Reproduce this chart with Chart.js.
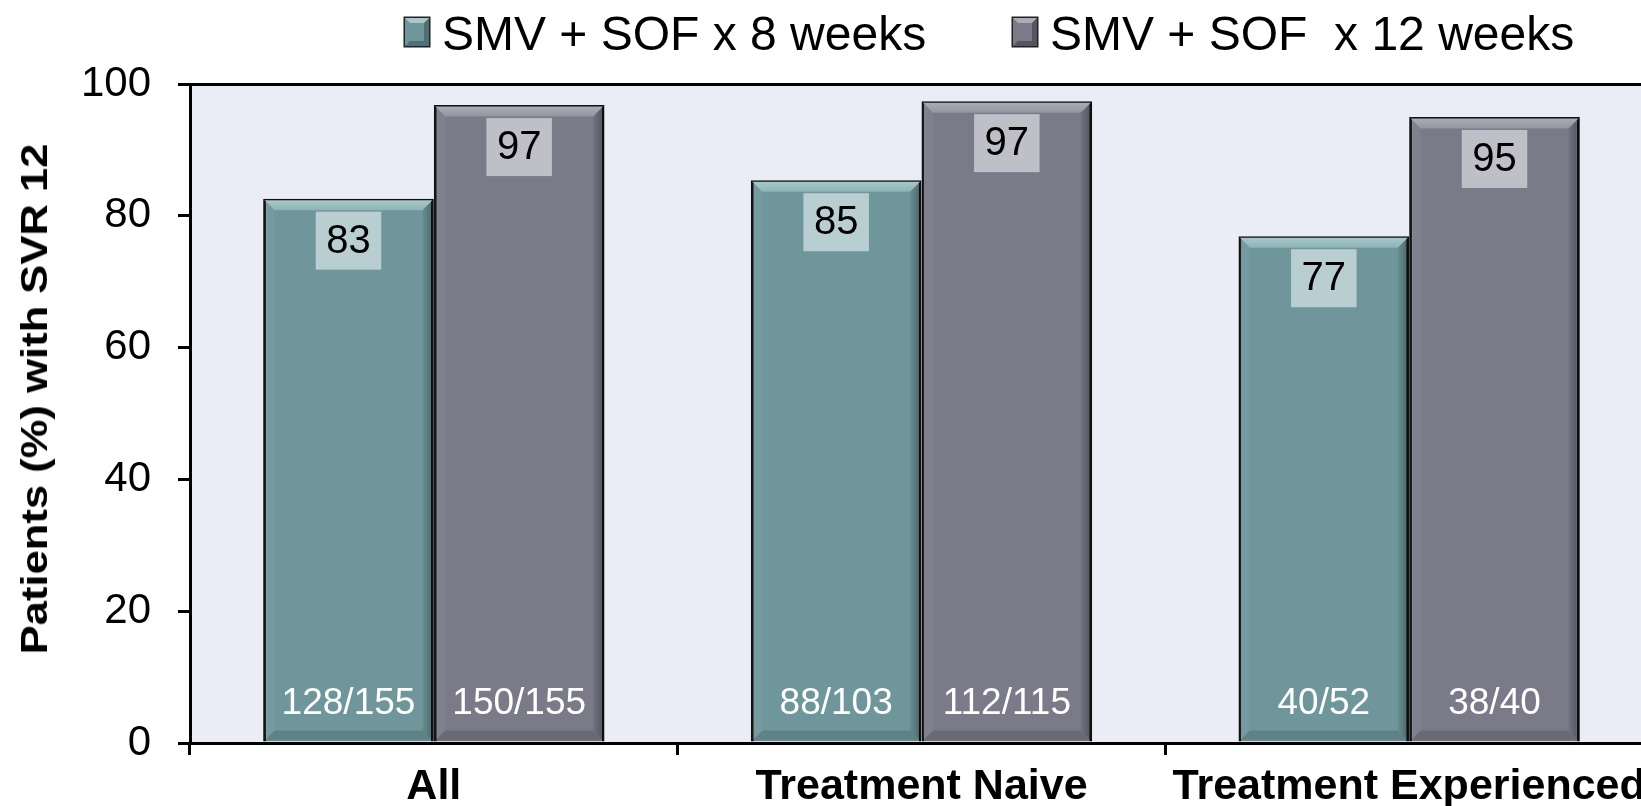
<!DOCTYPE html>
<html>
<head>
<meta charset="utf-8">
<script src="https://cdn.jsdelivr.net/npm/chart.js@4/dist/chart.umd.min.js"></script>
<style>
  body { margin: 0; background: #fff; overflow: hidden; width: 1641px; height: 806px; position: relative; }
  #wrap { position: absolute; left: 0; top: 0; width: 1660px; height: 806px; }
  #legend { position: absolute; left: 0; top: 0; width: 1641px; height: 70px; font-family: "Liberation Sans", Arial, sans-serif; }
  .item { position: absolute; top: 10px; height: 48px; line-height: 48px; font-size: 48px; white-space: pre; color: #000; }
  .box { position: absolute; top: 8px; width: 14px; height: 18px; border: 5px solid; box-shadow: 0 0 0 1.5px #222; }
  .txt { position: absolute; top: 0; }
  #ytitle { position: absolute; left: 35px; top: 399px; font: bold 36px "Liberation Sans", Arial, sans-serif; white-space: nowrap; color: #000;
            transform: translate(-50%, -50%) rotate(-90deg) scaleX(1.21); }
</style>
</head>
<body>
<div id="wrap"><canvas id="svrChart"></canvas></div>
<div id="legend"></div>
<div id="ytitle">Patients (%) with SVR 12</div>
<script>
const categories = ['All', 'Treatment Naive', 'Treatment Experienced'];
const seriesNames = ['SMV + SOF x 8 weeks', 'SMV + SOF  x 12 weeks'];
const svr8 = [82.6, 85.4, 76.9];
const svr12 = [96.8, 97.4, 95.0];
const svr8Labels = ['83', '85', '77'];
const svr12Labels = ['97', '97', '95'];
const counts8 = ['128/155', '88/103', '40/52'];
const counts12 = ['150/155', '112/115', '38/40'];
const yMin = 0, yMax = 100, yStep = 20;

// legend placement (left edge of each swatch)
const legendX = [405, 1013];

function poly(ctx, pts, fill) {
    ctx.beginPath();
    ctx.moveTo(pts[0][0], pts[0][1]);
    for (let k = 1; k < pts.length; k++) ctx.lineTo(pts[k][0], pts[k][1]);
    ctx.closePath();
    ctx.fillStyle = fill;
    ctx.fill();
}

const plotBackground = {
    id: 'plotBackground',
    beforeDraw(chart) {
        const { ctx, chartArea } = chart;
        ctx.save();
        ctx.fillStyle = '#eaedf6';
        ctx.fillRect(chartArea.left, chartArea.top, chart.width - chartArea.left, chartArea.bottom - chartArea.top);
        ctx.restore();
    }
};

const barDecor = {
    id: 'barDecor',
    afterDatasetsDraw(chart) {
        const ctx = chart.ctx;
        ctx.save();
        chart.data.datasets.forEach((ds, i) => {
            chart.getDatasetMeta(i).data.forEach((bar, j) => {
                const { x, y, base, width } = bar.getProps(['x', 'y', 'base', 'width'], true);
                const l = x - width / 2 + 1.5, r = x + width / 2 - 1.5, t = y + 1.5, b = base - 1;
                const d = 10;
                // bevel edges
                poly(ctx, [[l, b], [r, b], [r - d, b - d], [l + d, b - d]], 'rgba(0,0,0,0.13)');
                poly(ctx, [[l, t], [l + d, t + d], [l + d, b - d], [l, b]], 'rgba(255,255,255,0.05)');
                const g = ctx.createLinearGradient(r - d, 0, r, 0);
                g.addColorStop(0, 'rgba(0,0,0,0.05)');
                g.addColorStop(1, 'rgba(0,0,0,0.3)');
                poly(ctx, [[r, t], [r, b], [r - d, b - d], [r - d, t + d]], g);
                const gt = ctx.createLinearGradient(0, t, 0, t + d);
                gt.addColorStop(0, ds.bevelTop[0]);
                gt.addColorStop(1, ds.bevelTop[1]);
                poly(ctx, [[l, t], [r, t], [r - d, t + d], [l + d, t + d]], gt);

                // value box
                ctx.font = '40px "Liberation Sans", Arial, sans-serif';
                const txt = ds.valueLabels[j];
                const tw = ctx.measureText(txt).width;
                const bw = tw + 21, bh = 58, by = y + 13;
                ctx.fillStyle = ds.labelBox;
                ctx.fillRect(x - bw / 2, by, bw, bh);
                ctx.fillStyle = '#000';
                ctx.textAlign = 'center';
                ctx.textBaseline = 'middle';
                ctx.fillText(txt, x, by + bh / 2 + 1);

                // patient counts
                ctx.font = '37px "Liberation Sans", Arial, sans-serif';
                ctx.fillStyle = '#fff';
                ctx.textBaseline = 'alphabetic';
                ctx.fillText(ds.counts[j], x, base - 28);
            });
        });
        ctx.restore();
    }
};

const htmlLegend = {
    id: 'htmlLegend',
    afterUpdate(chart) {
        const el = document.getElementById('legend');
        el.innerHTML = '';
        chart.data.datasets.forEach((ds, i) => {
            const item = document.createElement('div');
            item.className = 'item';
            item.style.left = legendX[i] + 'px';
            const box = document.createElement('span');
            box.className = 'box';
            box.style.background = ds.backgroundColor;
            box.style.borderColor = `${ds.bevelTop[0]} ${ds.swatchDark} ${ds.swatchDark} ${ds.backgroundColor}`;
            const txt = document.createElement('span');
            txt.className = 'txt';
            txt.style.left = '37px';
            txt.textContent = ds.label;
            item.appendChild(box);
            item.appendChild(txt);
            el.appendChild(item);
        });
    }
};

const svrChart = new Chart(document.getElementById('svrChart').getContext('2d'), {
    type: 'bar',
    data: {
        labels: categories,
        datasets: [{
            label: seriesNames[0],
            data: svr8,
            backgroundColor: '#6e969b',
            bevelTop: ['#a6c8ca', '#8fb3b6'],
            swatchDark: '#4f7175',
            labelBox: '#b8ced1',
            valueLabels: svr8Labels,
            counts: counts8
        }, {
            label: seriesNames[1],
            data: svr12,
            backgroundColor: '#7a7a88',
            bevelTop: ['#acacb8', '#9494a1'],
            swatchDark: '#55555f',
            labelBox: '#bfbfc8',
            valueLabels: svr12Labels,
            counts: counts12
        }]
    },
    options: {
        responsive: true,
        maintainAspectRatio: false,
        animation: false,
        layout: { padding: { top: 84, right: 7, bottom: 0, left: 0 } },
        datasets: {
            bar: {
                categoryPercentage: 0.7,
                barPercentage: 1.0,
                borderColor: '#111',
                borderWidth: 3
            }
        },
        plugins: {
            legend: { display: false },
            tooltip: { enabled: false }
        },
        scales: {
            x: {
                offset: true,
                afterFit(scale) { scale.height = 63; },
                grid: { offset: true, drawOnChartArea: false, tickLength: 12, tickColor: '#000', lineWidth: 3 },
                border: { color: '#000', width: 3, z: 1 },
                ticks: {
                    color: '#000',
                    padding: 6,
                    maxRotation: 0,
                    autoSkip: false,
                    font: { family: '"Liberation Sans", Arial, sans-serif', size: 43, weight: 'bold' }
                }
            },
            y: {
                min: yMin,
                max: yMax,
                afterFit(scale) { scale.width = 190; },
                grid: {
                    color: c => (c.tick && c.tick.value === yMax ? '#000' : 'rgba(0,0,0,0)'),
                    tickColor: '#000',
                    tickLength: 12,
                    lineWidth: 3
                },
                border: { color: '#000', width: 3, z: 1 },
                ticks: {
                    stepSize: yStep,
                    color: '#000',
                    padding: 27,
                    font: { family: '"Liberation Sans", Arial, sans-serif', size: 42 }
                }
            }
        }
    },
    plugins: [plotBackground, barDecor, htmlLegend]
});
</script>
</body>
</html>
